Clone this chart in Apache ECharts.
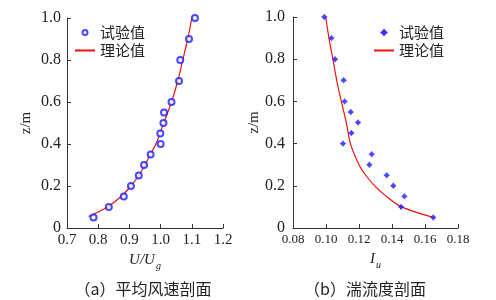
<!DOCTYPE html>
<html><head><meta charset="utf-8">
<script src="https://cdn.jsdelivr.net/npm/echarts@6/dist/echarts.min.js"></script>
<style>html,body{margin:0;padding:0;background:#fff}#c{width:496px;height:300px}</style>
</head><body><div id="c"></div>
<script>
// (a) mean wind speed profile
const zA = [1.0, 0.9, 0.8, 0.7, 0.6, 0.55, 0.5, 0.45, 0.4, 0.35, 0.3, 0.25, 0.2, 0.15, 0.1, 0.05];
const uTest = [1.11, 1.091, 1.063, 1.059, 1.035, 1.011, 1.009, 0.999, 1.0, 0.968, 0.947, 0.93, 0.905, 0.882, 0.834, 0.785];
const zTheoryA = [0.055, 0.1, 0.15, 0.2, 0.25, 0.3, 0.35, 0.4, 0.5, 0.6, 0.7, 0.8, 0.9, 1.0];
const uTheory = [0.769, 0.83, 0.873, 0.905, 0.93, 0.95, 0.967, 0.985, 1.01, 1.035, 1.055, 1.071, 1.087, 1.10];
// (b) turbulence intensity profile
const zB = [1.0, 0.9, 0.8, 0.7, 0.6, 0.55, 0.5, 0.45, 0.4, 0.35, 0.3, 0.25, 0.2, 0.15, 0.1, 0.05];
const iTest = [0.099, 0.1033, 0.1055, 0.1107, 0.1113, 0.115, 0.1194, 0.1154, 0.1103, 0.1277, 0.1263, 0.1368, 0.1408, 0.1475, 0.1455, 0.165];
const zTheoryB = [1.0, 0.9, 0.8, 0.7, 0.6, 0.5, 0.4, 0.3, 0.25, 0.2, 0.15, 0.1, 0.05];
const iTheory = [0.0998, 0.1018, 0.1042, 0.1065, 0.1093, 0.1123, 0.1148, 0.12, 0.1241, 0.1295, 0.1366, 0.1457, 0.165];
const xTicksA = [0.7, 0.8, 0.9, 1.0, 1.1, 1.2];
const xTicksB = [0.08, 0.10, 0.12, 0.14, 0.16, 0.18];
const yTicks = [0, 0.2, 0.4, 0.6, 0.8, 1.0];
const nameTest = '试验值', nameTheory = '理论值';
const captionA = '（a）平均风速剖面', captionB = '（b）湍流度剖面';

const pair = (xs, ys) => xs.map((x, i) => [x, ys[i]]);
const serif = 'Liberation Serif';
const txt = '#222';
const blue = '#1a1aff', red = '#f01010';
const axisCommon = {
  axisLine: {lineStyle: {color: '#333', width: 1}},
  axisTick: {inside: true, length: 4, lineStyle: {color: '#333'}},
  splitLine: {show: false}
};
const star = 'path://M0,-10 L4.5,-4.5 L10,0 L4.5,4.5 L0,10 L-4.5,4.5 L-10,0 L-4.5,-4.5Z';
const legendCommon = {
  orient: 'vertical', padding: 0, itemGap: 2, itemWidth: 20, itemHeight: 5, top: 24.5,
  textStyle: {fontFamily: 'Noto Sans CJK SC', fontSize: 15, lineHeight: 16, color: txt}
};

const chart = echarts.init(document.getElementById('c'), null, {renderer: 'canvas'});
chart.setOption({
  animation: false,
  backgroundColor: '#fff',
  grid: [
    {left: 67, top: 18, width: 156, height: 210},
    {left: 293, top: 17, width: 165, height: 211}
  ],
  xAxis: [
    Object.assign({}, axisCommon, {
      gridIndex: 0, type: 'value', min: xTicksA[0], max: xTicksA[xTicksA.length - 1], interval: 0.1,
      axisLabel: {fontFamily: serif, fontSize: 15, color: txt, margin: 5,
        formatter: v => v.toFixed(1)},
      name: '{i|U/U}{s|g}', nameLocation: 'middle', nameGap: 20,
      nameTextStyle: {rich: {
        i: {fontFamily: serif, fontStyle: 'italic', fontSize: 15, color: txt},
        s: {fontFamily: serif, fontStyle: 'italic', fontSize: 10, color: txt, padding: [12, 0, 0, 1]}
      }}
    }),
    Object.assign({}, axisCommon, {
      gridIndex: 1, type: 'value', min: xTicksB[0], max: xTicksB[xTicksB.length - 1], interval: 0.02,
      axisLabel: {fontFamily: serif, fontSize: 13, color: txt, margin: 5,
        formatter: v => v.toFixed(2)},
      name: '{i|I}{s|u}', nameLocation: 'middle', nameGap: 20,
      nameTextStyle: {rich: {
        i: {fontFamily: serif, fontStyle: 'italic', fontSize: 15, color: txt},
        s: {fontFamily: serif, fontStyle: 'italic', fontSize: 10, color: txt, padding: [12, 0, 0, 1]}
      }}
    })
  ],
  yAxis: [0, 1].map(g => Object.assign({}, axisCommon, {
    gridIndex: g, type: 'value', min: yTicks[0], max: yTicks[yTicks.length - 1], interval: 0.2,
    axisLabel: {fontFamily: serif, fontSize: 16, color: txt, margin: g === 0 ? 6 : 8,
      formatter: v => v === 0 ? '0' : v.toFixed(1)},
    name: 'z/m', nameLocation: 'middle', nameGap: g === 0 ? 33 : 30,
    nameTextStyle: {fontFamily: serif, fontSize: 15, color: txt}
  })),
  legend: [
    Object.assign({}, legendCommon, {left: 74,
      data: [{name: nameTest, icon: 'emptyCircle'}, {name: nameTheory, itemStyle: {opacity: 0}}]}),
    Object.assign({}, legendCommon, {left: 373,
      data: [{name: nameTest, icon: star}, {name: nameTheory, itemStyle: {opacity: 0}}]})
  ],
  title: [
    {text: captionA, left: 138, top: 276, textAlign: 'center',
      textStyle: {fontFamily: 'Noto Sans CJK SC', fontSize: 16, fontWeight: 'normal', color: txt}},
    {text: captionB, left: 360, top: 276, textAlign: 'center',
      textStyle: {fontFamily: 'Noto Sans CJK SC', fontSize: 16, fontWeight: 'normal', color: txt}}
  ],
  series: [
    {name: nameTheory, type: 'line', xAxisIndex: 0, yAxisIndex: 0, data: pair(uTheory, zTheoryA),
      smooth: 0.3, symbol: 'none', lineStyle: {color: red, width: 1.2}, itemStyle: {color: red}, z: 2},
    {name: nameTest, type: 'scatter', xAxisIndex: 0, yAxisIndex: 0, data: pair(uTest, zA),
      symbol: 'emptyCircle', symbolSize: 6, itemStyle: {color: blue, borderColor: blue, borderWidth: 1.2}, z: 3},
    {name: nameTheory, type: 'line', xAxisIndex: 1, yAxisIndex: 1, data: pair(iTheory, zTheoryB),
      smooth: 0.3, symbol: 'none', lineStyle: {color: red, width: 1.2}, itemStyle: {color: red}, z: 2},
    {name: nameTest, type: 'scatter', xAxisIndex: 1, yAxisIndex: 1, data: pair(iTest, zB),
      symbol: star, symbolSize: 6.5, itemStyle: {color: blue}, z: 3}
  ]
});
</script></body></html>
